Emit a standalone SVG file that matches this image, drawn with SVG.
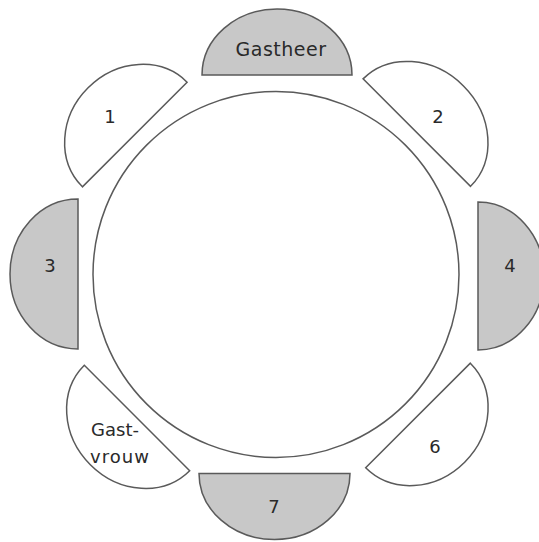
<svg xmlns="http://www.w3.org/2000/svg" width="539" height="542" viewBox="0 0 539 542">
<style>
.seat{stroke:#5a5a5a;stroke-width:1.5;fill:#fff}
.grey{fill:#c8c8c8}
text{font-family:"DejaVu Sans",Verdana,sans-serif;font-size:18px;fill:#2a2a2a;text-anchor:middle}
</style>
<rect width="539" height="542" fill="#fff"/>
<g id="table"><circle cx="276" cy="274.5" r="183" fill="#fff" stroke="#5a5a5a" stroke-width="1.5"/></g>
<g id="gastheer"><path class="seat grey" transform="translate(277,75)" d="M-75 0A75 66 0 0 1 75 0Z"/><text x="281" y="56" style="font-size:19px;letter-spacing:0.5px">Gastheer</text></g>
<g id="seat1"><path class="seat" transform="translate(134.75,134.5) rotate(-45)" d="M-74 0A74 66 0 0 1 74 0Z"/><text x="110" y="123">1</text></g>
<g id="seat2"><path class="seat" transform="translate(416.8,132.6) rotate(45)" d="M-76 0A76 66 0 0 1 76 0Z"/><text x="438" y="123">2</text></g>
<g id="seat3"><path class="seat grey" transform="translate(78,274) rotate(-90)" d="M-75 0A75 68 0 0 1 75 0Z"/><text x="50" y="272">3</text></g>
<g id="seat4"><path class="seat grey" transform="translate(478,276) rotate(90)" d="M-74 0A74 66 0 0 1 74 0Z"/><text x="510" y="272">4</text></g>
<g id="gastvrouw"><path class="seat" transform="translate(137,418) rotate(-135)" d="M-74.5 0A74.5 66 0 0 1 74.5 0Z"/><text x="115" y="436">Gast-</text><text x="120" y="463" style="letter-spacing:1px">vrouw</text></g>
<g id="seat6"><path class="seat" transform="translate(418,415.5) rotate(135)" d="M-74 0A74 66 0 0 1 74 0Z"/><text x="435" y="453">6</text></g>
<g id="seat7"><path class="seat grey" transform="translate(274.5,473.5) rotate(180)" d="M-75.5 0A75.5 66 0 0 1 75.5 0Z"/><text x="274" y="513">7</text></g>
</svg>
